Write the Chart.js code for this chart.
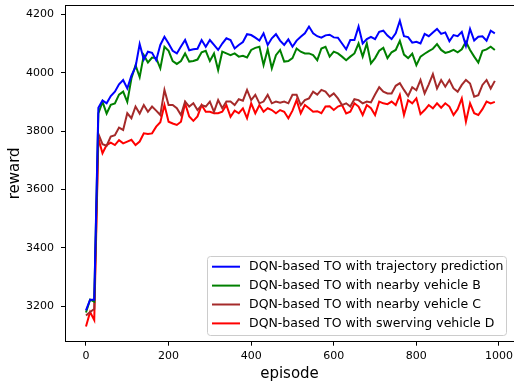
<!DOCTYPE html>
<html>
<head>
<meta charset="utf-8">
<script src="https://cdn.jsdelivr.net/npm/chart.js@4.4.1/dist/chart.umd.min.js"></script>
<style>
  html, body { margin: 0; padding: 0; background: #fff; overflow: hidden; }
  #wrap { width: 514px; height: 388px; }
</style>
</head>
<body>
<div id="wrap"><canvas id="c" width="514" height="388"></canvas></div>
<script>
"use strict";
const EPISODES = [
  0, 10, 20, 30, 40, 50, 60, 70, 80, 90,
  100, 110, 120, 130, 140, 150, 160, 170, 180, 190,
  200, 210, 220, 230, 240, 250, 260, 270, 280, 290,
  300, 310, 320, 330, 340, 350, 360, 370, 380, 390,
  400, 410, 420, 430, 440, 450, 460, 470, 480, 490,
  500, 510, 520, 530, 540, 550, 560, 570, 580, 590,
  600, 610, 620, 630, 640, 650, 660, 670, 680, 690,
  700, 710, 720, 730, 740, 750, 760, 770, 780, 790,
  800, 810, 820, 830, 840, 850, 860, 870, 880, 890,
  900, 910, 920, 930, 940, 950, 960, 970, 980, 990];

const TRAJ_PRED = [
  3185, 3222, 3222, 3880, 3905, 3895, 3920, 3935, 3960, 3975,
  3946, 3990, 4020, 4098, 4045, 4072, 4068, 4043, 4095, 4123,
  4100, 4075, 4066, 4090, 4112, 4077, 4080, 4082, 4112, 4089,
  4112, 4095, 4078, 4100, 4118, 4112, 4083, 4095, 4105, 4132,
  4129, 4120, 4110, 4135, 4095, 4118, 4132, 4110, 4095, 4114,
  4089, 4110, 4123, 4135, 4158, 4135, 4125, 4120, 4128, 4130,
  4121, 4120, 4100, 4080, 4112, 4112, 4158, 4100, 4115, 4123,
  4115, 4140, 4144, 4127, 4115, 4135, 4178, 4125, 4122, 4103,
  4106, 4100, 4133, 4125, 4138, 4150, 4133, 4138, 4108, 4129,
  4125, 4140, 4092, 4150, 4110, 4123, 4125, 4110, 4144, 4135];

const NEARBY_B = [
  3178, 3222, 3215, 3860, 3900, 3860, 3890, 3895, 3925, 3935,
  3900, 3980, 4026, 3985, 4060, 4035, 4052, 4050, 4015, 4089,
  4075, 4040, 4030, 4040, 4066, 4038, 4040, 4045, 4070, 4075,
  4040, 4066, 4009, 4072, 4066, 4060, 4066, 4055, 4058, 4052,
  4078, 4085, 4089, 4026, 4080, 4015, 4060, 4078, 4038, 4040,
  4050, 4083, 4072, 4066, 4066, 4060, 4043, 4083, 4089, 4055,
  4072, 4066, 4055, 4043, 4055, 4066, 4100, 4055, 4100, 4032,
  4050, 4075, 4085, 4050, 4070, 4078, 4109, 4062, 4050, 4065,
  4026, 4055, 4065, 4074, 4082, 4098, 4078, 4068, 4072, 4078,
  4070, 4080, 4106, 4078, 4055, 4035, 4075, 4080, 4089, 4078];

const NEARBY_C = [
  3168, 3180, 3190, 3790, 3755, 3750, 3781, 3786, 3812, 3804,
  3861, 3844, 3884, 3860, 3889, 3866, 3884, 3870, 3855, 3941,
  3889, 3889, 3878, 3855, 3901, 3884, 3895, 3872, 3889, 3884,
  3901, 3866, 3906, 3878, 3901, 3901, 3889, 3909, 3904, 3941,
  3906, 3924, 3895, 3901, 3924, 3895, 3901, 3897, 3901, 3895,
  3924, 3924, 3889, 3906, 3912, 3935, 3925, 3941, 3935, 3918,
  3929, 3912, 3889, 3895, 3884, 3909, 3906, 3895, 3901, 3898,
  3925, 3950, 3935, 3929, 3929, 3955, 3964, 3941, 3920, 3950,
  3940, 3975, 3929, 3960, 3995, 3946, 3975, 3952, 3975, 3946,
  3935, 3958, 3975, 3963, 3918, 3923, 3958, 3975, 3946, 3972];

const SWERVING_D = [
  3130, 3180, 3152, 3775, 3724, 3752, 3760, 3752, 3769, 3758,
  3764, 3770, 3752, 3764, 3792, 3790, 3792, 3815, 3830, 3889,
  3832, 3826, 3821, 3832, 3895, 3850, 3835, 3850, 3889, 3866,
  3866, 3861, 3861, 3866, 3889, 3849, 3870, 3861, 3878, 3844,
  3895, 3861, 3889, 3866, 3878, 3872, 3861, 3872, 3866, 3844,
  3870, 3906, 3861, 3889, 3878, 3866, 3868, 3861, 3884, 3885,
  3872, 3884, 3889, 3860, 3866, 3895, 3884, 3855, 3889, 3878,
  3855, 3901, 3895, 3892, 3901, 3889, 3924, 3855, 3906, 3895,
  3912, 3858, 3872, 3889, 3878, 3895, 3880, 3895, 3884, 3855,
  3875, 3912, 3832, 3895, 3861, 3855, 3875, 3901, 3895, 3900];

const SERIES_LABELS = [
  "DQN-based TO with trajectory prediction",
  "DQN-based TO with nearby vehicle B",
  "DQN-based TO with nearby vehicle C",
  "DQN-based TO with swerving vehicle D"];
const SERIES_COLORS = ["#0000ff", "#008000", "#a52a2a", "#ff0000"];
const X_TICKS = [0, 200, 400, 600, 800, 1000];
const Y_TICKS = [3200, 3400, 3600, 3800, 4000, 4200];

const FONT = "DejaVu Sans";
Chart.defaults.font.family = FONT;
Chart.defaults.color = "#000";
Chart.defaults.animation = false;

const pts = (ys) => ys.map((y, i) => ({ x: EPISODES[i], y }));

// top spine only; the right spine lies just outside the picture
const frame = {
  id: "frame",
  afterDraw(chart) {
    const { ctx, chartArea: a } = chart;
    ctx.save();
    // keep the right edge of the plot open
    ctx.fillStyle = "#fff";
    ctx.fillRect(a.right - 4, a.top + 1, 4, a.bottom - a.top - 2);
    ctx.strokeStyle = "#000";
    ctx.lineWidth = 1;
    ctx.beginPath();
    ctx.moveTo(a.left, Math.round(a.top) + 0.5);
    ctx.lineTo(chart.width, Math.round(a.top) + 0.5);
    ctx.stroke();
    ctx.restore();
  },
};

// matplotlib-like legend box in the lower right
const boxLegend = {
  id: "boxLegend",
  afterDraw(chart) {
    const ctx = chart.ctx;
    ctx.save();
    ctx.beginPath();
    ctx.roundRect(207.5, 256.5, 299, 79, 3);
    ctx.fillStyle = "rgba(255,255,255,0.8)";
    ctx.fill();
    ctx.strokeStyle = "#cccccc";
    ctx.lineWidth = 1;
    ctx.stroke();
    ctx.font = `12.5px "${FONT}"`;
    ctx.textBaseline = "middle";
    chart.data.datasets.forEach((ds, i) => {
      const ry = 266.7 + i * 18.9;
      ctx.strokeStyle = ds.borderColor;
      ctx.lineWidth = 2;
      ctx.beginPath();
      ctx.moveTo(212, ry);
      ctx.lineTo(240, ry);
      ctx.stroke();
      ctx.fillStyle = "#000";
      ctx.fillText(ds.label, 249, ry);
    });
    ctx.restore();
  },
};

const axisGrid = { display: true, drawOnChartArea: false, drawTicks: true,
  tickLength: 4, color: "#000", tickColor: "#000", tickWidth: 1 };

new Chart(document.getElementById("c"), {
  type: "line",
  data: {
    datasets: [TRAJ_PRED, NEARBY_B, NEARBY_C, SWERVING_D].map((ys, i) => ({
      label: SERIES_LABELS[i],
      data: pts(ys),
      borderColor: SERIES_COLORS[i],
      backgroundColor: SERIES_COLORS[i],
      borderWidth: 2,
      pointRadius: 0,
      tension: 0,
      fill: false,
    })),
  },
  options: {
    responsive: false,
    events: [],
    layout: { autoPadding: false, padding: { top: 5, left: 0, right: 0, bottom: 0 } },
    plugins: { legend: { display: false }, tooltip: { enabled: false } },
    scales: {
      x: {
        type: "linear", min: -50.8, max: 1036.4,
        afterBuildTicks: (s) => { s.ticks = X_TICKS.map((v) => ({ value: v })); },
        afterFit: (s) => { s.height = 46.3; s.paddingLeft = 0; s.paddingRight = 0; },
        grid: axisGrid,
        border: { display: true, color: "#000", width: 1 },
        ticks: { font: { size: 11 }, padding: 4, maxRotation: 0, autoSkip: false,
          callback: (v) => String(v) },
        title: { display: true, text: "episode", font: { size: 15 },
          padding: { top: 0, bottom: 5 } },
      },
      y: {
        type: "linear", min: 3078, max: 4232,
        afterBuildTicks: (s) => { s.ticks = Y_TICKS.map((v) => ({ value: v })); },
        afterFit: (s) => { s.width = 65; s.paddingTop = 0; s.paddingBottom = 0; },
        grid: axisGrid,
        border: { display: true, color: "#000", width: 1 },
        ticks: { font: { size: 11 }, padding: 7, autoSkip: false,
          callback: (v) => String(v) },
        title: { display: true, text: "reward", font: { size: 15 },
          padding: { top: 6, bottom: 0 } },
      },
    },
  },
  plugins: [frame, boxLegend],
});
</script>
</body>
</html>
